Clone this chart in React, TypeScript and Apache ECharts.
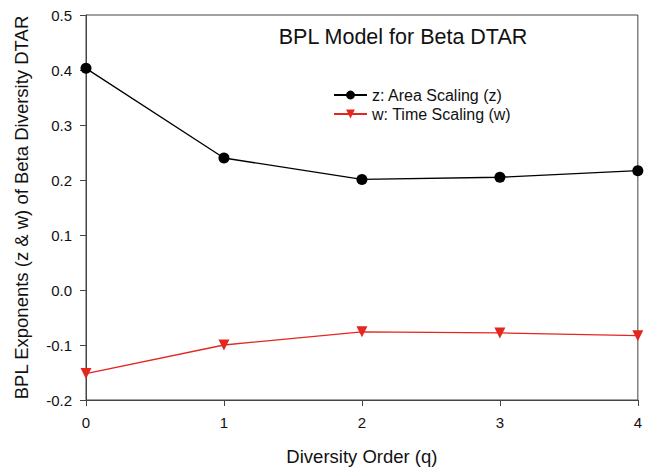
import React, { useEffect, useRef } from "react";
import * as echarts from "echarts";

const orders = [0, 1, 2, 3, 4];
const zValues = [0.403, 0.24, 0.201, 0.205, 0.217];
const wValues = [-0.152, -0.1, -0.076, -0.078, -0.083];
const zName = "z: Area Scaling (z)";
const wName = "w: Time Scaling (w)";

export default function App() {
  const ref = useRef<HTMLDivElement>(null);
  useEffect(() => {
    if (!ref.current) return;
    const chart = echarts.init(ref.current, undefined, { renderer: "svg" });
    const font = "'Liberation Sans', Arial, sans-serif";
    chart.setOption({
      animation: false,
      backgroundColor: "#ffffff",
      textStyle: { fontFamily: font },
      title: {
        text: "BPL Model for Beta DTAR",
        left: 398,
        top: 21,
        textAlign: "center",
        textStyle: { fontSize: 21.5, fontWeight: "normal", color: "#111", fontFamily: font },
      },
      legend: {
        orient: "vertical",
        left: 328,
        top: 82,
        itemWidth: 33,
        itemHeight: 11,
        itemGap: 3,
        textStyle: { fontSize: 16, color: "#111", fontFamily: font },
        data: [zName, wName],
      },
      grid: {
        left: 86,
        right: 1,
        top: 15,
        bottom: 66,
        show: true,
        borderColor: "#444",
        borderWidth: 1,
      },
      xAxis: {
        type: "value",
        min: 0,
        max: 4,
        interval: 1,
        name: "Diversity Order (q)",
        nameLocation: "middle",
        nameGap: 47,
        nameTextStyle: { fontSize: 18.5, color: "#111", fontFamily: font },
        axisLine: { onZero: false, lineStyle: { color: "#444" } },
        axisTick: { inside: false, length: 6, lineStyle: { color: "#444" } },
        axisLabel: { fontSize: 15, color: "#111", margin: 15, fontFamily: font },
        splitLine: { show: false },
      },
      yAxis: {
        type: "value",
        min: -0.2,
        max: 0.5,
        interval: 0.1,
        name: "BPL Exponents (z & w) of Beta Diversity DTAR",
        nameLocation: "middle",
        nameGap: 55,
        nameTextStyle: { fontSize: 18.5, color: "#111", fontFamily: font },
        axisLine: { onZero: false, lineStyle: { color: "#444" } },
        axisTick: { inside: false, length: 6, lineStyle: { color: "#444" } },
        axisLabel: {
          fontSize: 15,
          color: "#111",
          margin: 14,
          fontFamily: font,
          formatter: (v: number) => v.toFixed(1),
        },
        splitLine: { show: false },
      },
      series: [
        {
          name: zName,
          type: "line",
          data: orders.map((o, i) => [o, zValues[i]]),
          symbol: "circle",
          symbolSize: 11,
          itemStyle: { color: "#000" },
          lineStyle: { color: "#000", width: 1.3 },
          clip: false,
        },
        {
          name: wName,
          type: "line",
          data: orders.map((o, i) => [o, wValues[i]]),
          symbol: "triangle",
          symbolRotate: 180,
          symbolSize: 11,
          itemStyle: { color: "#e3261e" },
          lineStyle: { color: "#e3261e", width: 1.3 },
          clip: false,
        },
      ],
    });
    return () => chart.dispose();
  }, []);
  return (
    <div
      ref={ref}
      style={{ position: "fixed", left: 0, top: 0, width: 645, height: 471 }}
    />
  );
}
